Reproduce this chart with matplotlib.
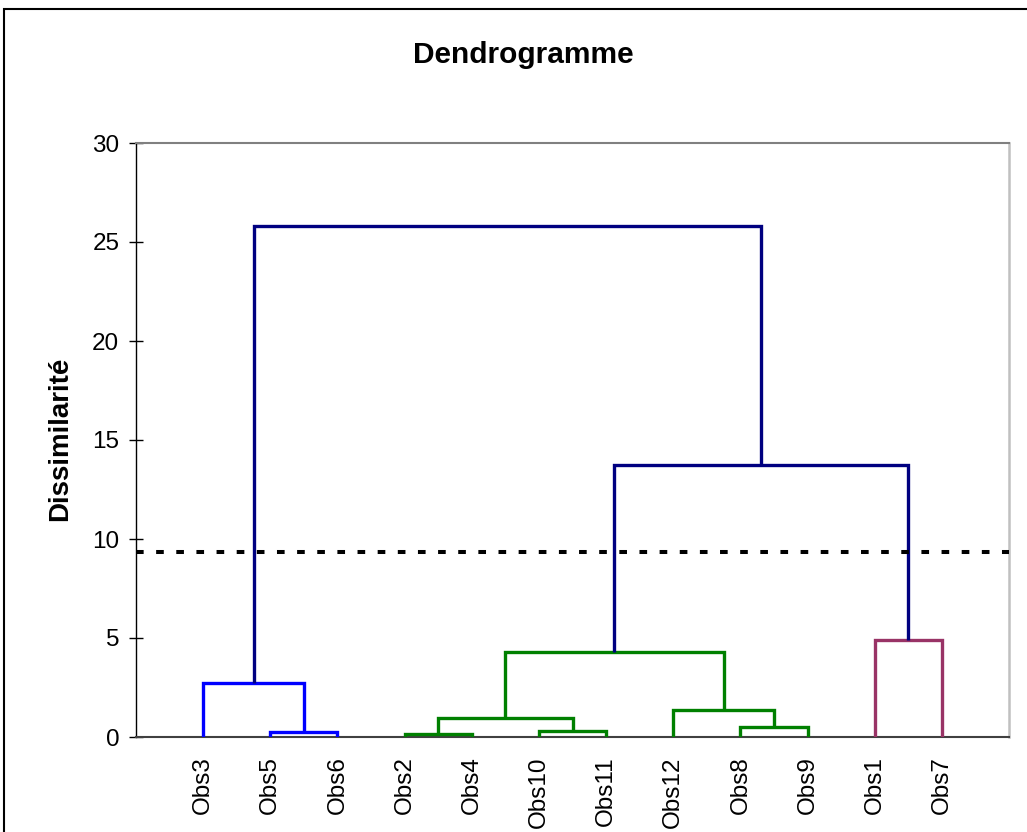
import numpy as np
import matplotlib
matplotlib.use("Agg")
import matplotlib.pyplot as plt
from matplotlib.patches import Rectangle

plt.rcParams['font.family'] = ['Liberation Sans', 'DejaVu Sans']

# leaves in display order
leaves = ["Obs3", "Obs5", "Obs6", "Obs2", "Obs4", "Obs10", "Obs11",
          "Obs12", "Obs8", "Obs9", "Obs1", "Obs7"]

# merges: node ids 0..11 are leaves, new nodes get 12, 13, ...
merge_left = [1, 3, 5, 8, 13, 7, 0, 16, 10, 19, 18]
merge_right = [2, 4, 6, 9, 14, 15, 12, 17, 11, 20, 21]
merge_height = [0.27, 0.15, 0.32, 0.52, 0.97, 1.36, 2.71, 4.28, 4.90, 13.72, 25.82]
merge_color = ["#0000FF", "#008000", "#008000", "#008000", "#008000", "#008000",
               "#0000FF", "#008000", "#993366", "#000080", "#000080"]

cut_level = 9.33

W, H = 1027, 832
fig = plt.figure(figsize=(W / 100, H / 100), dpi=100)
ax = fig.add_axes([136 / W, (H - 737) / H, 873 / W, (737 - 143) / H])

# node positions and heights
xpos = {i: i + 1.0 for i in range(len(leaves))}
ypos = {i: 0.0 for i in range(len(leaves))}
for k, (a, b, h, c) in enumerate(zip(merge_left, merge_right, merge_height, merge_color)):
    node = len(leaves) + k
    xa, xb = xpos[a], xpos[b]
    ax.plot([xa, xa, xb, xb], [ypos[a], h, h, ypos[b]], color=c, lw=2.4,
            solid_joinstyle='miter', solid_capstyle='butt', zorder=3)
    xpos[node] = (xa + xb) / 2
    ypos[node] = h

ax.axhline(cut_level, color='black', lw=2.9, dashes=(1.9, 3.1), zorder=4)

ax.set_xlim(0, len(leaves) + 1)
ax.set_ylim(0, 30)
ax.set_yticks(np.arange(0, 31, 5))
ax.set_xticks(np.arange(1, len(leaves) + 1))
ax.set_xticklabels(leaves, rotation=90, fontsize=17.5)
ax.tick_params(axis='x', length=0, pad=14)
ax.tick_params(axis='y', direction='inout', length=10, width=1, labelsize=17.5, pad=7)

ax.spines['left'].set_color('black')
ax.spines['left'].set_linewidth(1)
ax.spines['bottom'].set_color('#404040')
ax.spines['bottom'].set_linewidth(1.5)
ax.spines['top'].set_color('#808080')
ax.spines['top'].set_linewidth(1.5)
ax.spines['right'].set_color('#c0c0c0')
ax.spines['right'].set_linewidth(1.8)

fig.text(523 / W, (H - 63) / H, "Dendrogramme", ha='center', va='baseline',
         fontsize=21.5, fontweight='bold')
fig.text(60 / W, 1 - 438.5 / H, "Dissimilarité", ha='center', va='center',
         rotation=90, fontsize=20, fontweight='bold')

fig.add_artist(Rectangle((4 / W, -0.1), 1.2, (H - 9) / H + 0.1,
                         transform=fig.transFigure, fill=False, lw=1.5, ec='black'))

fig.savefig("out.png", dpi=100)
